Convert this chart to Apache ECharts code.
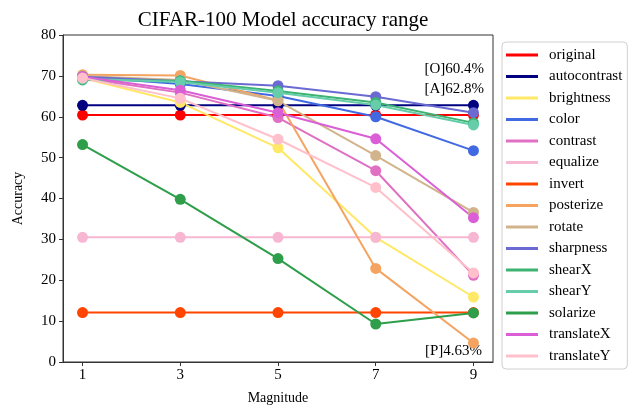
<!DOCTYPE html>
<html>
<head>
<meta charset="utf-8">
<script src="https://cdn.jsdelivr.net/npm/echarts@6/dist/echarts.min.js"></script>
<style>html,body{margin:0;padding:0;background:#fff}#c{width:632px;height:411px}</style>
</head>
<body>
<div id="c"></div>
<script>
var magnitudes = [1, 3, 5, 7, 9];
var yTicks = [0, 10, 20, 30, 40, 50, 60, 70, 80];
var names = ['original','autocontrast','brightness','color','contrast','equalize','invert','posterize','rotate','sharpness','shearX','shearY','solarize','translateX','translateY'];
var original     = [60.4, 60.4, 60.4, 60.4, 60.4];
var autocontrast = [62.8, 62.8, 62.8, 62.8, 62.8];
var brightness   = [69.5, 63.5, 52.4, 30.5, 15.9];
var color        = [69.8, 68.0, 65.1, 60.0, 51.7];
var contrast     = [69.5, 65.9, 59.8, 46.8, 21.2];
var equalize     = [30.5, 30.5, 30.5, 30.5, 30.5];
var invert       = [12.1, 12.1, 12.1, 12.1, 12.1];
var posterize    = [70.3, 70.1, 64.0, 22.9, 4.63];
var rotate       = [70.0, 69.0, 63.9, 50.5, 36.6];
var sharpness    = [69.8, 68.7, 67.6, 64.9, 61.0];
var shearX       = [69.0, 68.8, 66.3, 63.5, 58.5];
var shearY       = [69.3, 68.5, 65.9, 62.9, 58.0];
var solarize     = [53.2, 39.8, 25.3, 9.3, 12.0];
var translateX   = [69.8, 66.5, 61.0, 54.6, 35.3];
var translateY   = [69.5, 64.5, 54.5, 42.7, 21.8];
var values = [original, autocontrast, brightness, color, contrast, equalize, invert, posterize, rotate, sharpness, shearX, shearY, solarize, translateX, translateY];
var colors = ['#ff0000','#000080','#ffe866','#4169e1','#e070c4','#f7b6d2','#ff4500','#f4a460','#d2b48c','#6a6ad2','#3cb371','#66cdaa','#2e9e4a','#da5fd6','#ffc0cb'];
var annotations = [['[O]60.4%', 484, 71], ['[A]62.8%', 484, 91], ['[P]4.63%', 482, 353]];

var FONT = 'Liberation Serif, Times New Roman, serif';
var series = names.map(function (n, i) {
  return {
    name: n, type: 'line',
    data: magnitudes.map(function (m, j) { return [m, values[i][j]]; }),
    symbol: 'circle', symbolSize: 11,
    lineStyle: { width: 2, color: colors[i] },
    itemStyle: { color: colors[i] },
    emphasis: { disabled: true },
    animation: false
  };
});

var chart = echarts.init(document.getElementById('c'), null, { renderer: 'canvas' });
chart.setOption({
  animation: false,
  backgroundColor: '#fff',
  color: colors,
  title: {
    text: 'CIFAR-100 Model accuracy range',
    left: 278, top: 5, textAlign: 'center',
    textStyle: { fontFamily: FONT, fontSize: 21, fontWeight: 'normal', color: '#000' }
  },
  grid: { left: 63, right: 139, top: 35, bottom: 49, show: true, borderColor: '#333', borderWidth: 1, containLabel: false },
  xAxis: {
    type: 'value', min: 0.6, max: 9.4,
    name: 'Magnitude', nameLocation: 'middle', nameGap: 29,
    nameTextStyle: { fontFamily: FONT, fontSize: 14, color: '#000' },
    axisLine: { show: true, lineStyle: { color: '#333', width: 1 } },
    axisTick: { show: true, length: 4, lineStyle: { color: '#333' }, customValues: magnitudes },
    axisLabel: { fontFamily: FONT, fontSize: 15, color: '#000', margin: 6, customValues: magnitudes },
    splitLine: { show: false }
  },
  yAxis: {
    type: 'value', min: 0, max: 80, interval: 10,
    name: 'Accuracy', nameLocation: 'middle', nameGap: 38,
    nameTextStyle: { fontFamily: FONT, fontSize: 14, color: '#000' },
    axisLine: { show: true, lineStyle: { color: '#333', width: 1 } },
    axisTick: { show: true, length: 4, lineStyle: { color: '#333' }, customValues: yTicks },
    axisLabel: { fontFamily: FONT, fontSize: 15, color: '#000', margin: 7, customValues: yTicks },
    splitLine: { show: false }
  },
  legend: {
    orient: 'vertical', left: 502, top: 42,
    icon: 'rect', itemWidth: 32, itemHeight: 3, itemGap: 5.5,
    padding: [5, 5, 5, 4],
    borderColor: '#d0d0d0', borderWidth: 1, borderRadius: 4,
    textStyle: { fontFamily: FONT, fontSize: 15, color: '#000', lineHeight: 16, padding: [0, 0, 0, 6] },
    data: names
  },
  graphic: annotations.map(function (a) {
    return {
      type: 'text', right: 632 - a[1], top: a[2] - 9,
      style: { text: a[0], font: '15px ' + FONT, fill: '#000' }
    };
  }),
  series: series
});
</script>
</body>
</html>
